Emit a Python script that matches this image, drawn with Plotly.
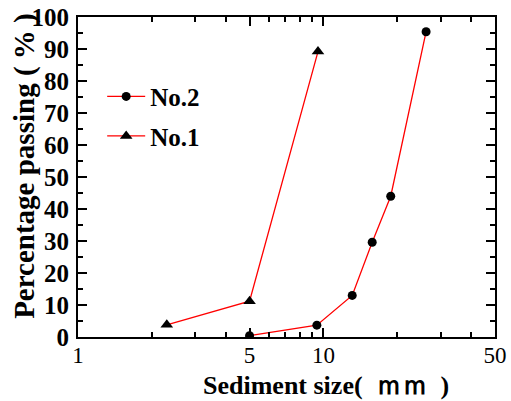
import plotly.graph_objects as go

# Data
no2_size = [5.0, 9.4, 13.1, 15.8, 18.8, 26.2]
no2_pass = [0.4, 3.7, 13.0, 29.6, 44.0, 95.4]
no1_size = [2.3, 5.0, 9.5]
no1_pass = [3.8, 11.2, 89.2]

x_tickvals = [1, 5, 10, 50]
x_minor = [2, 3, 4, 6, 7, 8, 9, 20, 30, 40]
y_tickvals = list(range(0, 101, 10))

SERIF = "Liberation Serif, Times New Roman, serif"

fig = go.Figure()
fig.add_trace(go.Scatter(
    x=no2_size, y=no2_pass, mode="lines+markers", name="<b>No.2</b>",
    line=dict(color="red", width=1.3),
    marker=dict(symbol="circle", size=9, color="black"),
    legendgroup="a",
))
fig.add_trace(go.Scatter(
    x=no1_size, y=no1_pass, mode="lines+markers", name="<b>No.1</b>",
    line=dict(color="red", width=1.3),
    marker=dict(symbol="triangle-up", size=11, color="black"),
    legendgroup="b",
))

fig.update_layout(
    width=511, height=401,
    margin=dict(l=78, r=16, t=17, b=64, autoexpand=False),
    paper_bgcolor="white", plot_bgcolor="white",
    showlegend=True,
    legend=dict(
        x=0.058, y=0.823, xanchor="left", yanchor="top",
        font=dict(family=SERIF, size=25, color="black"),
        bgcolor="rgba(0,0,0,0)", tracegroupgap=4, itemwidth=38,
    ),
    annotations=[
        dict(text="<b>Sediment size(  ｍｍ  )</b>", xref="paper", yref="paper",
             x=0.595, y=-0.15, xanchor="center", yanchor="middle", showarrow=False,
             font=dict(family=SERIF, size=26, color="black")),
        dict(text="<b>Percentage passing ( % )</b>", xref="paper", yref="paper",
             x=-0.127, y=0.535, xanchor="center", yanchor="middle", showarrow=False,
             textangle=-90, font=dict(family=SERIF, size=29, color="black")),
    ],
)

fig.update_xaxes(
    type="log", range=[0, 1.69897], automargin=False,
    tickmode="array", tickvals=x_tickvals, ticktext=[str(v) for v in x_tickvals],
    ticks="inside", ticklen=9, tickwidth=1.5, tickcolor="black",
    minor=dict(tickmode="array", tickvals=x_minor, ticks="inside", ticklen=5,
               tickwidth=1.5, tickcolor="black", showgrid=False),
    showline=True, linecolor="black", linewidth=2, mirror="ticks",
    showgrid=False, zeroline=False,
    tickfont=dict(family=SERIF, size=23, color="black"),
    ticklabelstandoff=-4,
)
fig.update_yaxes(
    range=[0, 100], automargin=False,
    tickmode="array", tickvals=y_tickvals,
    ticktext=[f"<b>{v}</b>" for v in y_tickvals],
    ticks="inside", ticklen=9, tickwidth=1.5, tickcolor="black",
    minor=dict(dtick=5, ticks="inside", ticklen=5, tickwidth=1.5,
               tickcolor="black", showgrid=False),
    showline=True, linecolor="black", linewidth=2, mirror="ticks",
    showgrid=False, zeroline=False,
    tickfont=dict(family=SERIF, size=25, color="black"),
    ticklabelstandoff=2,
)

fig.write_html("out.html",
               config={"displayModeBar": False},
               post_script="document.body.style.margin='0px';"
                           "document.body.style.overflow='hidden';")
